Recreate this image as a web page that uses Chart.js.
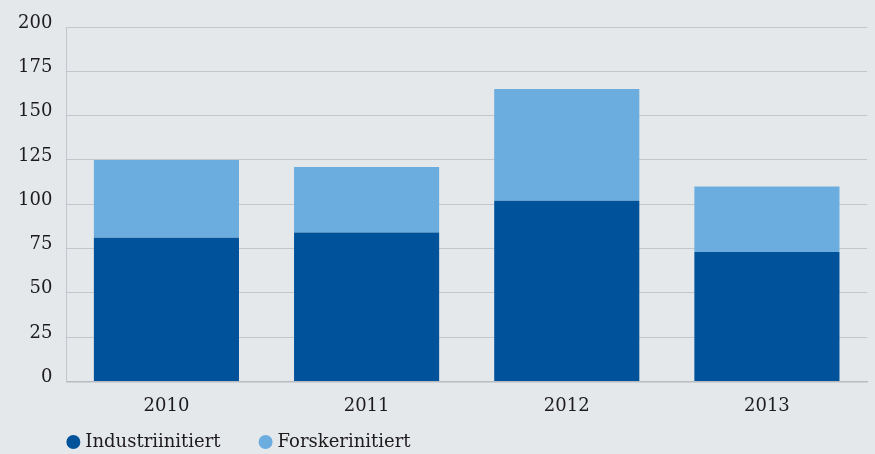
<!DOCTYPE html>
<html>
<head>
<meta charset="utf-8">
<script src="https://cdn.jsdelivr.net/npm/chart.js@4"></script>
<style>
  html, body { margin: 0; padding: 0; background: #e4e8eb; }
  #wrap { width: 875px; height: 454px; }
</style>
</head>
<body>
<div id="wrap"><canvas id="chart"></canvas></div>
<script>
const years = ["2010", "2011", "2012", "2013"];
const industri = [81, 84, 102, 73];
const forsker = [44, 37, 63, 37];
const seriesNames = ["Industriinitiert", "Forskerinitiert"];

const textColor = "#1e1b1c";
const gridColor = "#c2c6ca";

// legend with round dots, left aligned under the plot
const dotLegend = {
  id: "dotLegend",
  afterDraw(chart) {
    const ctx = chart.ctx;
    let x = chart.chartArea.left;
    const y = chart.height - 12;
    ctx.save();
    ctx.font = "18px 'DejaVu Serif'";
    ctx.textBaseline = "middle";
    chart.data.datasets.forEach(ds => {
      ctx.fillStyle = ds.backgroundColor;
      ctx.beginPath();
      ctx.arc(x + 7, y, 7, 0, Math.PI * 2);
      ctx.fill();
      ctx.fillStyle = textColor;
      ctx.fillText(ds.label, x + 19, y);
      x += 19 + ctx.measureText(ds.label).width + 38;
    });
    ctx.restore();
  }
};

Chart.defaults.font.family = "'DejaVu Serif', serif";
Chart.defaults.font.size = 18;
Chart.defaults.color = textColor;

new Chart(document.getElementById("chart"), {
  type: "bar",
  data: {
    labels: years,
    datasets: [
      { label: seriesNames[0], data: industri, backgroundColor: "#00529b" },
      { label: seriesNames[1], data: forsker, backgroundColor: "#6badde" }
    ]
  },
  options: {
    responsive: true,
    maintainAspectRatio: false,
    animation: false,
    layout: { padding: { left: 4, right: 8, top: 27, bottom: 31 } },
    datasets: { bar: { categoryPercentage: 1, barPercentage: 0.725 } },
    scales: {
      x: {
        stacked: true,
        grid: { display: false },
        border: { display: true, color: "#b8bcc0", width: 1.5 },
        ticks: { padding: 6 }
      },
      y: {
        stacked: true,
        min: 0,
        max: 200,
        ticks: { stepSize: 25, padding: 14, labelOffset: -4 },
        grid: { color: gridColor, drawTicks: false },
        border: { display: true, color: gridColor }
      }
    },
    plugins: {
      legend: { display: false },
      tooltip: { enabled: false }
    }
  },
  plugins: [dotLegend]
});
</script>
</body>
</html>
